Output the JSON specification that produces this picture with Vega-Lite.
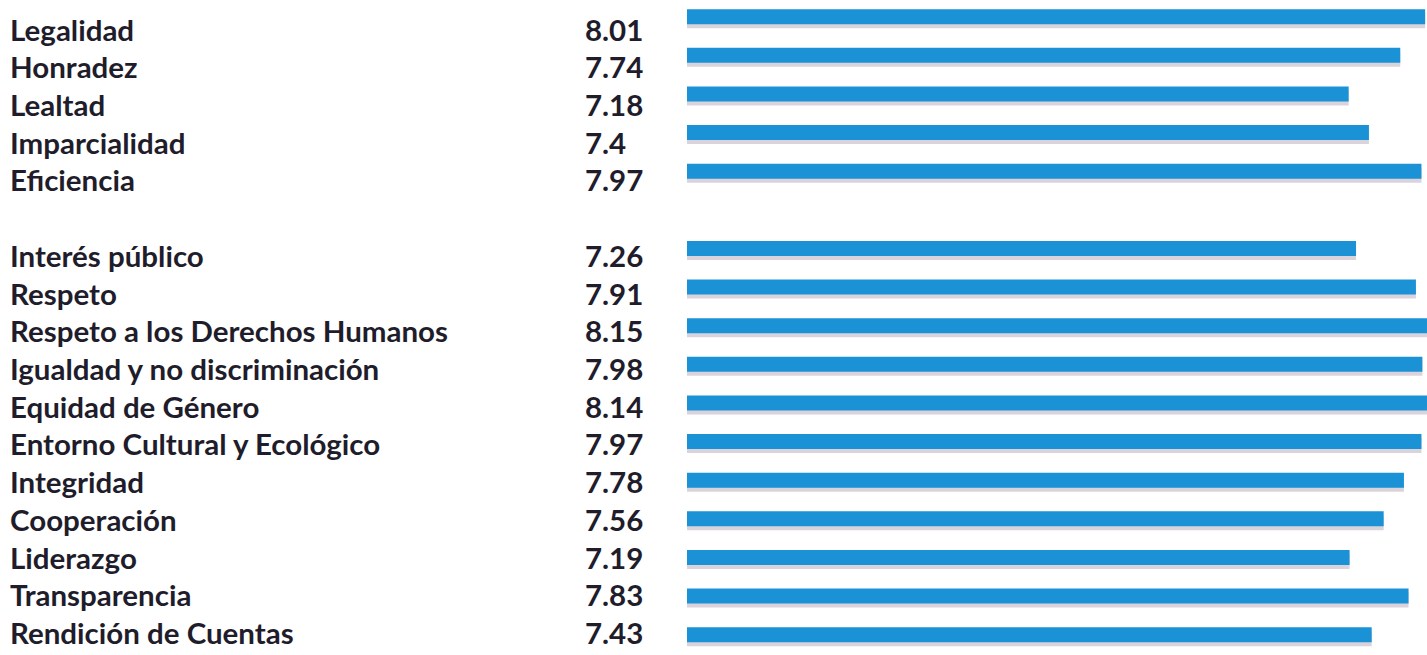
{
  "$schema": "https://vega.github.io/schema/vega-lite/v6.json",
  "padding": {"left": 10, "top": 8.7, "right": 0, "bottom": 0},
  "spacing": 0,
  "bounds": "flush",
  "background": "white",
  "resolve": {"scale": {"y": "independent"}},
  "config": {"view": {"stroke": null}, "concat": {"spacing": 0}},
  "data": {
    "values": [
      {"principio": "Legalidad", "valor": 8.01},
      {"principio": "Honradez", "valor": 7.74},
      {"principio": "Lealtad", "valor": 7.18},
      {"principio": "Imparcialidad", "valor": 7.4},
      {"principio": "Eficiencia", "valor": 7.97},
      {"principio": "Interés público", "valor": 7.26},
      {"principio": "Respeto", "valor": 7.91},
      {"principio": "Respeto a los Derechos Humanos", "valor": 8.15},
      {"principio": "Igualdad y no discriminación", "valor": 7.98},
      {"principio": "Equidad de Género", "valor": 8.14},
      {"principio": "Entorno Cultural y Ecológico", "valor": 7.97},
      {"principio": "Integridad", "valor": 7.78},
      {"principio": "Cooperación", "valor": 7.56},
      {"principio": "Liderazgo", "valor": 7.19},
      {"principio": "Transparencia", "valor": 7.83},
      {"principio": "Rendición de Cuentas", "valor": 7.43}
    ]
  },
  "hconcat": [
    {
      "width": 575,
      "height": 641.2,
      "mark": {"type": "text", "align": "left", "baseline": "middle", "font": "Lato", "fontWeight": "bold", "fontSize": 29.5, "color": "#1f1d2b"},
      "encoding": {
        "x": {"datum": 0, "type": "quantitative", "scale": {"domain": [0, 1]}, "axis": null},
        "y": {
          "field": "principio",
          "type": "nominal",
          "sort": null,
          "scale": {"domain": ["Legalidad", "Honradez", "Lealtad", "Imparcialidad", "Eficiencia", " ", "Interés público", "Respeto", "Respeto a los Derechos Humanos", "Igualdad y no discriminación", "Equidad de Género", "Entorno Cultural y Ecológico", "Integridad", "Cooperación", "Liderazgo", "Transparencia", "Rendición de Cuentas"], "paddingInner": 0.2147, "paddingOuter": 0, "round": false},
          "axis": null
        },
        "text": {"field": "principio", "type": "nominal"}
      }
    },
    {
      "width": 102,
      "height": 641.2,
      "mark": {"type": "text", "align": "left", "baseline": "middle", "font": "Lato", "fontWeight": "bold", "fontSize": 29.5, "color": "#1f1d2b"},
      "encoding": {
        "x": {"datum": 0, "type": "quantitative", "scale": {"domain": [0, 1]}, "axis": null},
        "y": {
          "field": "principio",
          "type": "nominal",
          "sort": null,
          "scale": {"domain": ["Legalidad", "Honradez", "Lealtad", "Imparcialidad", "Eficiencia", " ", "Interés público", "Respeto", "Respeto a los Derechos Humanos", "Igualdad y no discriminación", "Equidad de Género", "Entorno Cultural y Ecológico", "Integridad", "Cooperación", "Liderazgo", "Transparencia", "Rendición de Cuentas"], "paddingInner": 0.2147, "paddingOuter": 0, "round": false},
          "axis": null
        },
        "text": {"field": "valor", "type": "quantitative"}
      }
    },
    {
      "width": 740,
      "height": 642,
      "encoding": {
        "y": {
          "field": "principio",
          "type": "nominal",
          "sort": null,
          "scale": {"domain": ["Legalidad", "Honradez", "Lealtad", "Imparcialidad", "Eficiencia", " ", "Interés público", "Respeto", "Respeto a los Derechos Humanos", "Igualdad y no discriminación", "Equidad de Género", "Entorno Cultural y Ecológico", "Integridad", "Cooperación", "Liderazgo", "Transparencia", "Rendición de Cuentas"], "paddingInner": 0.3786, "paddingOuter": 0, "round": false},
          "axis": null
        },
        "x": {
          "field": "valor",
          "type": "quantitative",
          "scale": {"domain": [0, 8.03], "clamp": true, "nice": false, "zero": true},
          "axis": null
        }
      },
      "layer": [
        {"mark": {"type": "bar", "height": 15, "yOffset": -4, "color": "#c2b6c4", "opacity": 0.6}},
        {"mark": {"type": "bar", "height": 15, "yOffset": -8, "color": "#1b92d5"}}
      ]
    }
  ]
}
